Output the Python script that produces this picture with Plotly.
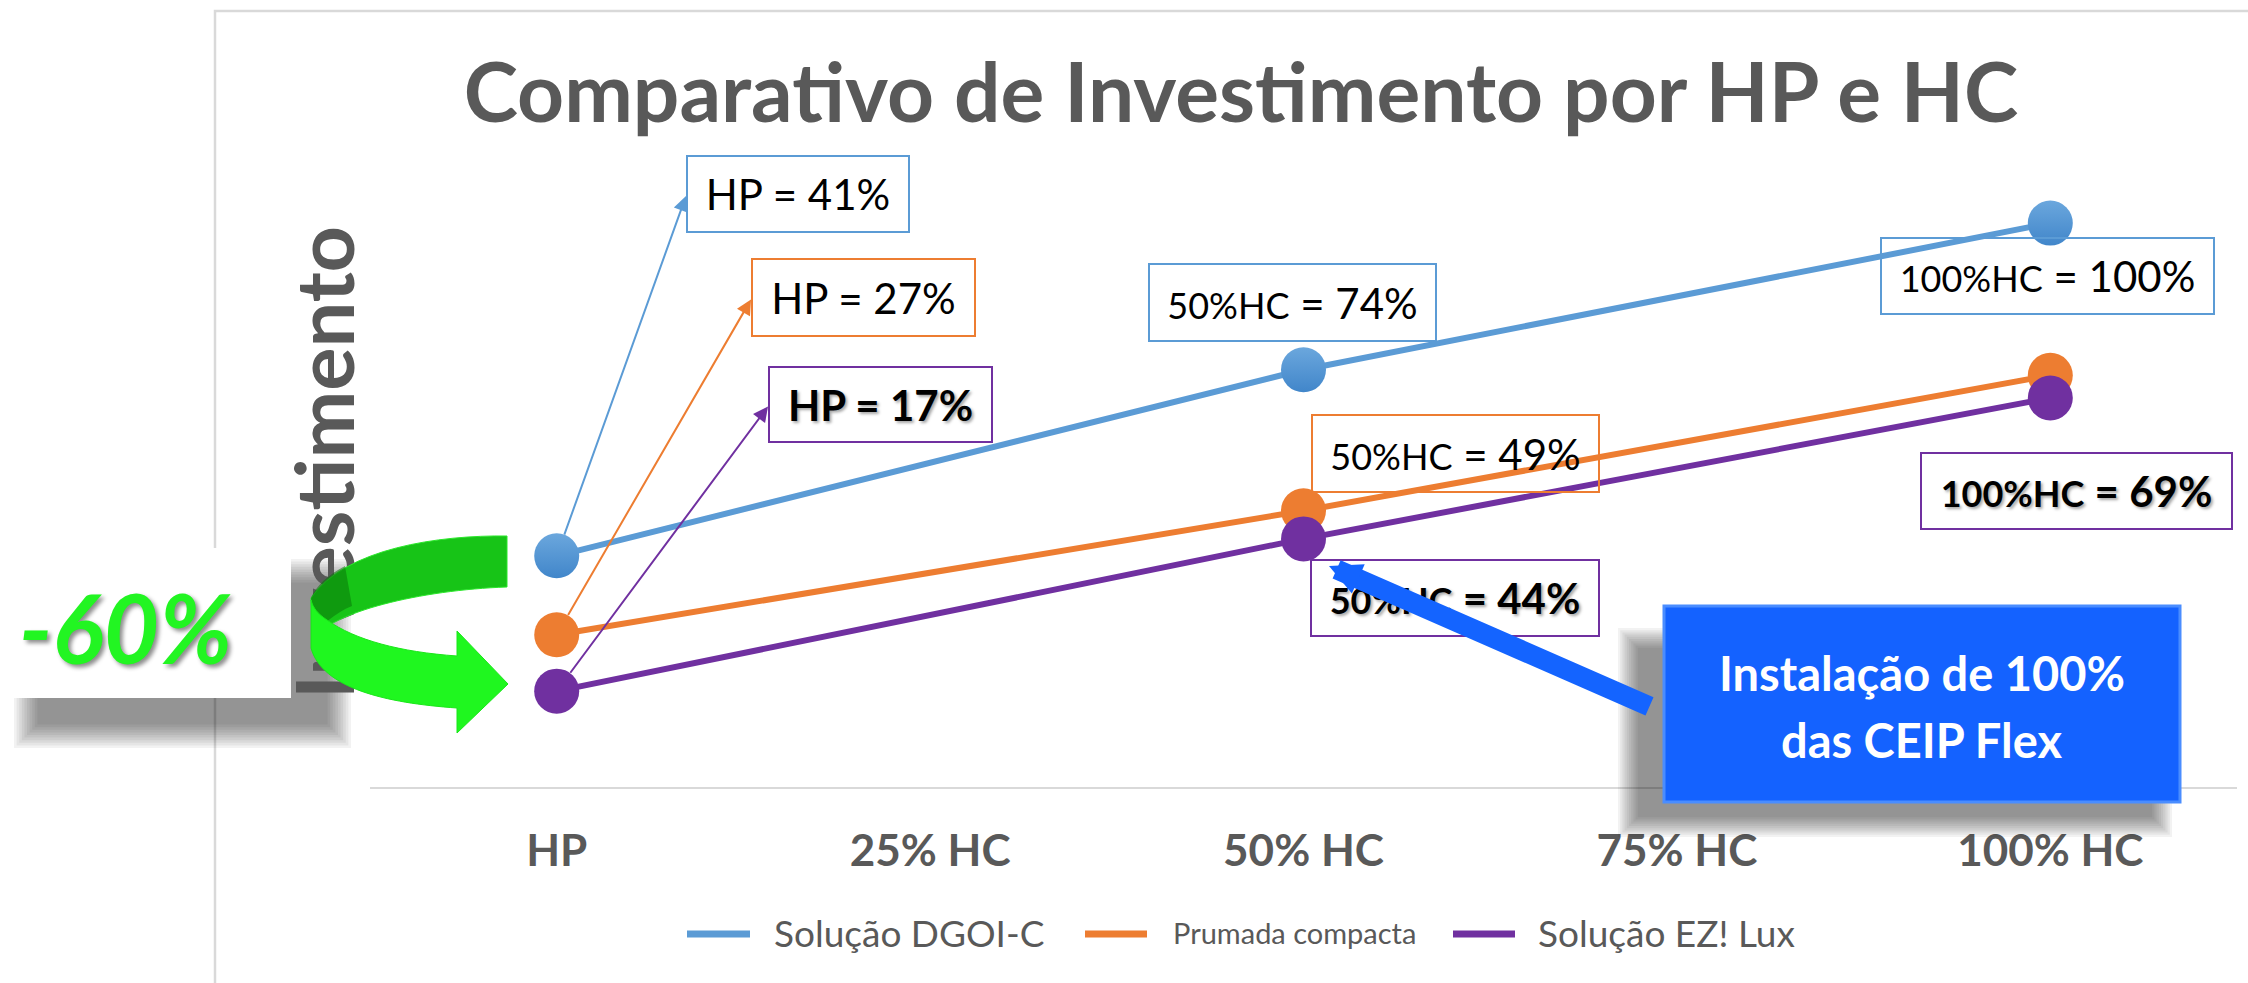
import plotly.graph_objects as go

# ---- data -------------------------------------------------------------
categories = ["HP", "25% HC", "50% HC", "75% HC", "100% HC"]
points = ["HP", "50% HC", "100% HC"]
dgoi_c = [41, 74, 100]          # Solução DGOI-C
prumada = [27, 49, 73]          # Prumada compacta
ez_lux = [17, 44, 69]           # Solução EZ! Lux
series_names = ["Solução DGOI-C", "Prumada compacta", "Solução EZ! Lux"]
label_prefix = ["HP", "50%HC", "100%HC"]

BLUE, ORANGE, PURPLE = "#5B9BD5", "#ED7D31", "#7030A0"
GRAY = "#595959"
FONT = "Lato"

# ---- canvas / plot-area geometry (pixels) ------------------------------
WIDTH, HEIGHT = 2248, 983
L, R, T, B = 370, 2237, 178, 787
YMAX = 108


def xp(x):
    return (x - L) / (R - L)


def yp(y):
    return (B - y) / (B - T)


def xd(x):
    return (x - L) / (R - L) * len(categories) - 0.5


def yd(y):
    return (B - y) / (B - T) * YMAX


def ppath(cmds):
    """Build an SVG path in paper coordinates; one command per point group."""
    out = []
    for c, pts in cmds:
        if c == "Z":
            out.append("Z")
        elif c == "C":
            for k in range(0, len(pts), 3):
                out.append("C" + " ".join(f"{xp(x):.5f},{yp(y):.5f}" for x, y in pts[k:k + 3]))
        else:
            for x, y in pts:
                out.append(f"{c}{xp(x):.5f},{yp(y):.5f}")
    return " ".join(out)


fig = go.Figure()

for name, vals, line_col, col, grad in [
    (series_names[0], dgoi_c, BLUE, "#6BA7DD", "#4186CA"),
    (series_names[1], prumada, ORANGE, ORANGE, ORANGE),
    (series_names[2], ez_lux, PURPLE, PURPLE, PURPLE),
]:
    fig.add_trace(go.Scatter(
        x=points, y=vals, name=name, mode="lines+markers",
        line=dict(color=line_col, width=6),
        marker=dict(size=45, color=col, gradient=dict(type="vertical", color=grad)),
        showlegend=False, hoverinfo="skip",
    ))

shapes = []
annotations = []

# chart-area frame
shapes.append(dict(type="rect", xref="paper", yref="paper", layer="below",
                   x0=xp(215), x1=xp(2262), y0=yp(11), y1=yp(1000),
                   line=dict(color="#D9D9D9", width=2.5), fillcolor="rgba(0,0,0,0)"))


def soft_shadow(x0, y0, x1, y1, spread, steps, alpha):
    for i in range(steps):
        e = spread * (1 - i / steps)
        shapes.append(dict(type="rect", xref="paper", yref="paper",
                           x0=xp(x0 - e), x1=xp(x1 + e), y0=yp(y1 + e), y1=yp(y0 - e),
                           line=dict(width=0), fillcolor=f"rgba(0,0,0,{alpha})"))


# "-60%" callout box with its drop shadow
soft_shadow(40, 585, 325, 722, 26, 10, 0.05)
shapes.append(dict(type="rect", xref="paper", yref="paper",
                   x0=xp(0), x1=xp(291), y0=yp(698), y1=yp(548),
                   line=dict(width=0), fillcolor="white"))

# y-axis title (kept as a shape label so the green arrow sits over it)
shapes.append(dict(type="rect", xref="paper", yref="paper",
                   x0=xp(290), x1=xp(352), y0=yp(705), y1=yp(220),
                   line=dict(width=0), fillcolor="rgba(0,0,0,0)",
                   label=dict(text="Investimento", textangle=-90, textposition="middle center",
                              font=dict(family=FONT, size=81, color=GRAY, weight="bold"))))

# curved green arrow: back band, shaded fold, front band with head
shapes.append(dict(type="path", xref="paper", yref="paper", line=dict(color="#2BE82B", width=1),
                   fillcolor="#17C417",
                   path=ppath([("M", [(507, 536)]), ("C", [(440, 535), (345, 548), (311, 598)]),
                               ("L", [(313, 640)]), ("C", [(330, 612), (420, 590), (507, 587)]),
                               ("Z", [])])))
shapes.append(dict(type="path", xref="paper", yref="paper", line=dict(width=0),
                   fillcolor="rgba(10,120,10,0.55)",
                   path=ppath([("M", [(311, 598)]), ("C", [(316, 586), (328, 575), (345, 566)]),
                               ("L", [(352, 606)]), ("C", [(335, 613), (320, 625), (313, 640)]),
                               ("Z", [])])))
shapes.append(dict(type="path", xref="paper", yref="paper", line=dict(color="#1AE61A", width=1),
                   fillcolor="#1FF71F",
                   path=ppath([("M", [(327, 620)]), ("C", [(355, 640), (400, 652), (457, 656)]),
                               ("L", [(457, 631), (508, 684), (457, 733), (457, 708)]),
                               ("C", [(385, 703), (322, 688), (311, 648)]),
                               ("L", [(311, 600)]), ("C", [(313, 608), (318, 614), (327, 620)]),
                               ("Z", [])])))

# blue callout box with shadow
soft_shadow(1640, 650, 2150, 815, 22, 10, 0.05)
shapes.append(dict(type="rect", xref="paper", yref="paper",
                   x0=xp(1664), x1=xp(2180), y0=yp(802), y1=yp(606),
                   line=dict(color="#4A8DFF", width=3), fillcolor="#1462FF"))
for txt, cy in [("Instalação de 100%", 673), ("das CEIP Flex", 740)]:
    annotations.append(dict(xref="paper", yref="paper", x=xp(1922), y=yp(cy),
                            xanchor="center", yanchor="middle", showarrow=False, text=txt,
                            font=dict(family=FONT, size=47, color="white", weight="bold")))

# manual legend
legend_items = [
    (series_names[0], BLUE, 687, 750, 772, 37),
    (series_names[1], ORANGE, 1085, 1147, 1171, 29),
    (series_names[2], PURPLE, 1453, 1515, 1536, 37),
]
for name, col, lx0, lx1, tx, fs in legend_items:
    shapes.append(dict(type="line", xref="paper", yref="paper",
                       x0=xp(lx0), x1=xp(lx1), y0=yp(934), y1=yp(934),
                       line=dict(color=col, width=7)))
    annotations.append(dict(xref="paper", yref="paper", x=xp(tx), y=yp(932),
                            xanchor="left", yanchor="middle", showarrow=False, text=name,
                            font=dict(family=FONT, size=fs, color=GRAY)))

# value labels: (series values, index, colour, box in px, bold)
label_specs = [
    (dgoi_c, 0, BLUE, (686, 155, 910, 233), False),
    (prumada, 0, ORANGE, (751, 258, 976, 337), False),
    (ez_lux, 0, PURPLE, (768, 366, 993, 443), True),
    (dgoi_c, 1, BLUE, (1148, 263, 1437, 342), False),
    (dgoi_c, 2, BLUE, (1880, 237, 2215, 315), False),
    (prumada, 1, ORANGE, (1311, 414, 1600, 493), False),
    (ez_lux, 1, PURPLE, (1310, 559, 1600, 637), True),
    (ez_lux, 2, PURPLE, (1920, 452, 2233, 530), True),
]
for vals, i, col, (bx0, by0, bx1, by1), bold in label_specs:
    if i == 0:
        txt = f"{label_prefix[i]} = {vals[i]}%"
    else:
        txt = f'<span style="font-size:36px">{label_prefix[i]}</span> = {vals[i]}%'
    if bold:
        txt = f"<b>{txt}</b>"
    annotations.append(dict(
        xref="paper", yref="paper", x=xp((bx0 + bx1) / 2), y=yp((by0 + by1) / 2),
        xanchor="center", yanchor="middle", showarrow=False, text=txt,
        width=bx1 - bx0 - 4, height=by1 - by0 - 4, borderpad=0,
        bordercolor=col, borderwidth=2,
        font=dict(family=FONT, size=42, color="black",
                  shadow="2px 2px 3px rgba(0,0,0,0.35)" if bold else "none"),
    ))
    if i == 0:
        # thin pointer from the HP marker to its label
        annotations.append(dict(
            xref="x", yref="y", axref="x", ayref="y",
            x=xd(bx0), y=yd((by0 + by1) / 2 + 2), ax=0, ay=vals[0], text="",
            showarrow=True, arrowhead=2, arrowsize=1.5, arrowwidth=2, arrowcolor=col,
            startstandoff=21,
        ))

# thick blue pointer from the callout box to the 50% HC point
annotations.append(dict(xref="paper", yref="paper", x=xp(1329), y=yp(566),
                        ax=1651 - 1329, ay=707 - 566, text="", showarrow=True,
                        arrowhead=2, arrowsize=0.32, arrowwidth=20, arrowcolor="#1464FF"))

# "-60%"
annotations.append(dict(xref="paper", yref="paper", x=xp(125), y=yp(626),
                        xanchor="center", yanchor="middle", showarrow=False, text="-60%",
                        font=dict(family=FONT, size=96, color="#22F522", weight="bold",
                                  style="italic", shadow="3px 3px 4px rgba(0,0,0,0.45)")))

fig.update_layout(
    width=WIDTH, height=HEIGHT,
    margin=dict(l=L, r=WIDTH - R, t=T, b=HEIGHT - B, pad=0),
    paper_bgcolor="white", plot_bgcolor="white",
    title=dict(text="Comparativo de Investimento por HP e HC",
               font=dict(family=FONT, size=82, color=GRAY, weight="bold"),
               x=1241 / WIDTH, xanchor="center", xref="container",
               y=1 - 93 / HEIGHT, yanchor="middle", yref="container"),
    xaxis=dict(type="category", categoryorder="array", categoryarray=categories,
               range=[-0.5, len(categories) - 0.5], showgrid=False, zeroline=False,
               showline=True, linecolor="#D9D9D9", linewidth=2, ticks="",
               tickfont=dict(family=FONT, size=44, color=GRAY, weight="bold"),
               ticklabelstandoff=24),
    yaxis=dict(range=[0, YMAX], visible=False),
    shapes=shapes, annotations=annotations, showlegend=False,
)

fig.write_html("out.html")
